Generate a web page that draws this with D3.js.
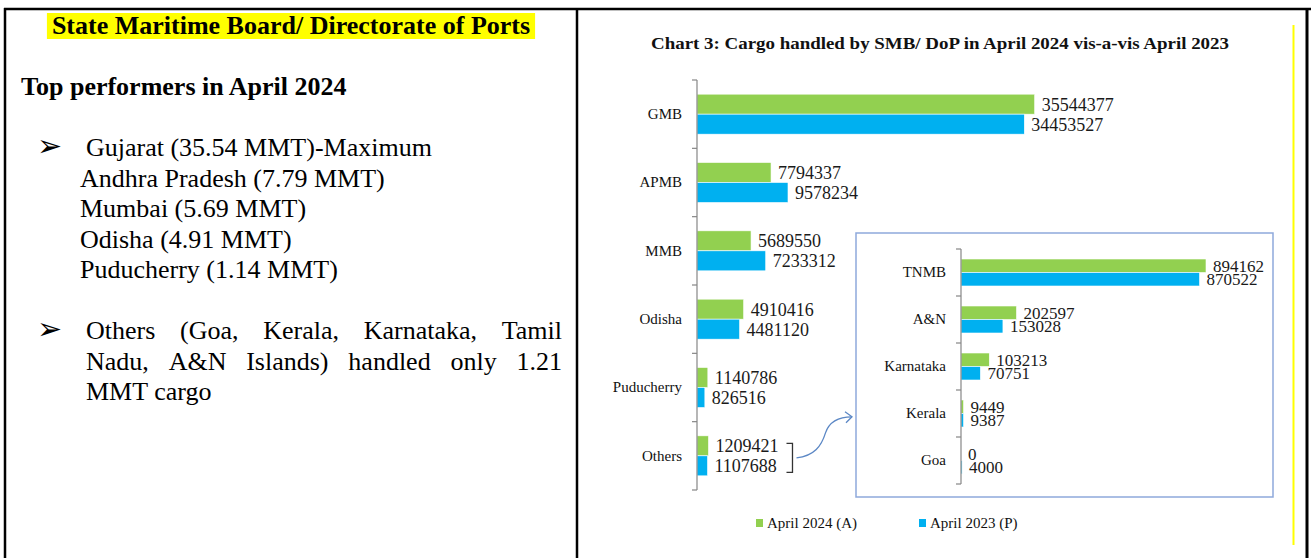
<!DOCTYPE html>
<html>
<head>
<meta charset="utf-8">
<script src="https://cdn.jsdelivr.net/npm/d3@7"></script>
<style>
  body { margin: 0; background: #fff; }
  svg { display: block; }
  text { font-family: "Liberation Serif", "Times New Roman", serif; }
</style>
</head>
<body>
<svg width="1311" height="558"></svg>
<script>
// ---- data ----
var mainCategories = ["GMB", "APMB", "MMB", "Odisha", "Puducherry", "Others"];
var april2024 = [35544377, 7794337, 5689550, 4910416, 1140786, 1209421];
var april2023 = [34453527, 9578234, 7233312, 4481120, 826516, 1107688];

var insetCategories = ["TNMB", "A&N", "Karnataka", "Kerala", "Goa"];
var inset2024 = [894162, 202597, 103213, 9449, 0];
var inset2023 = [870522, 153028, 70751, 9387, 4000];

var seriesNames = ["April 2024 (A)", "April 2023 (P)"];
var seriesColors = ["#92D050", "#00B0F0"];

var chartTitle = "Chart 3: Cargo handled by SMB/ DoP in April 2024 vis-a-vis April 2023";
var panelHeading = "State Maritime Board/ Directorate of Ports";
var panelSub = "Top performers in April 2024";
var performers = ["Gujarat (35.54 MMT)-Maximum", "Andhra Pradesh (7.79 MMT)", "Mumbai (5.69 MMT)",
                  "Odisha (4.91 MMT)", "Puducherry (1.14 MMT)"];
var othersLines = ["Others (Goa, Kerala, Karnataka, Tamil", "Nadu, A&N Islands) handled only 1.21", "MMT cargo"];

var svg = d3.select("svg");

// ---- table borders ----
var border = svg.append("g").attr("stroke", "#000");
border.append("line").attr("x1", 4).attr("x2", 1311).attr("y1", 9).attr("y2", 9).attr("stroke-width", 2.5);
border.append("line").attr("x1", 5).attr("x2", 5).attr("y1", 8).attr("y2", 558).attr("stroke-width", 2.5);
border.append("line").attr("x1", 577).attr("x2", 577).attr("y1", 8).attr("y2", 558).attr("stroke-width", 2.5);
border.append("line").attr("x1", 1307).attr("x2", 1307).attr("y1", 8).attr("y2", 558).attr("stroke-width", 3);

// yellow frame line of the chart picture
svg.append("line").attr("x1", 1293.5).attr("x2", 1293.5).attr("y1", 25).attr("y2", 545)
  .attr("stroke", "#FFFF00").attr("stroke-width", 2);

// ---- left panel ----
var left = svg.append("g");

var head = left.append("text")
  .attr("x", 291).attr("y", 34)
  .attr("text-anchor", "middle")
  .attr("font-size", 26).attr("font-weight", "bold")
  .text(panelHeading);
var hw = head.node().getComputedTextLength();
left.insert("rect", "text")
  .attr("x", 291 - hw / 2 - 5).attr("y", 13)
  .attr("width", hw + 10).attr("height", 26)
  .attr("fill", "#FFFF00");

left.append("text")
  .attr("x", 21).attr("y", 95)
  .attr("font-size", 26).attr("font-weight", "bold")
  .text(panelSub);

var bulletYs = [156, 339];
left.selectAll("text.bullet").data(bulletYs).join("text")
  .attr("class", "bullet")
  .attr("x", 37).attr("y", function(d) { return d; })
  .attr("font-size", 30)
  .style("font-family", "'DejaVu Sans', sans-serif")
  .text("\u27A2");

var perfYs = [156, 187, 217, 248, 278];
left.selectAll("text.perf").data(performers).join("text")
  .attr("class", "perf")
  .attr("x", function(d, i) { return i === 0 ? 86 : 80; })
  .attr("y", function(d, i) { return perfYs[i]; })
  .attr("font-size", 26)
  .text(function(d) { return d; });

// justified paragraph
function justify(words, x0, x1, yb) {
  var g = left.append("g");
  var t = g.selectAll("text").data(words).join("text")
    .attr("y", yb).attr("font-size", 26)
    .text(function(d) { return d; });
  var widths = t.nodes().map(function(n) { return n.getComputedTextLength(); });
  var gap = (x1 - x0 - d3.sum(widths)) / (words.length - 1);
  var cx = x0;
  t.attr("x", function(d, i) { var p = cx; cx += widths[i] + gap; return p; });
}
var othersYs = [339, 370, 400];
justify(othersLines[0].split(" "), 86, 562, othersYs[0]);
justify(othersLines[1].split(" "), 86, 562, othersYs[1]);
left.append("text").attr("x", 86).attr("y", othersYs[2]).attr("font-size", 26).text(othersLines[2]);

// ---- chart title ----
svg.append("text")
  .attr("x", 940).attr("y", 49)
  .attr("text-anchor", "middle")
  .attr("font-size", 17.5).attr("font-weight", "bold")
  .attr("textLength", 578).attr("lengthAdjust", "spacingAndGlyphs")
  .attr("fill", "#111")
  .text(chartTitle);

// ---- bar chart helper ----
function barChart(g, cats, s1, s2, x, y, yS, labelPad, fs) {
  var rows = cats.map(function(c, i) { return {cat: c, vals: [s1[i], s2[i]]}; });

  var row = g.selectAll("g.row").data(rows).join("g")
    .attr("class", "row")
    .attr("transform", function(d) { return "translate(0," + (y(d.cat) + y.bandwidth() / 2) + ")"; });

  row.selectAll("rect").data(function(d) { return d.vals; }).join("rect")
    .attr("x", x(0))
    .attr("y", function(d, i) { return yS(seriesNames[i]); })
    .attr("width", function(d) { return x(d) - x(0); })
    .attr("height", yS.bandwidth())
    .attr("fill", function(d, i) { return seriesColors[i]; })
    .attr("stroke", "#fff").attr("stroke-width", 0.6);

  row.selectAll("text.val").data(function(d) { return d.vals; }).join("text")
    .attr("class", "val")
    .attr("x", function(d) { return x(d) + 7; })
    .attr("y", function(d, i) { return yS(seriesNames[i]) + yS.bandwidth() / 2; })
    .attr("dy", "0.36em")
    .attr("font-size", fs)
    .attr("fill", "#1a1a1a")
    .text(function(d) { return d; });

  // category axis
  var ax = g.append("g")
    .attr("transform", "translate(" + x(0) + ",0)")
    .call(d3.axisLeft(y).tickSize(0).tickPadding(labelPad));
  ax.select(".domain").remove();
  ax.selectAll("text").attr("font-size", 15).attr("fill", "#111")
    .style("font-family", "'Liberation Serif', serif");

  var r = y.range();
  g.append("line")
    .attr("x1", x(0)).attr("x2", x(0)).attr("y1", r[0]).attr("y2", r[1])
    .attr("stroke", "#868686").attr("stroke-width", 1.2);
  var bounds = cats.map(function(c) { return y(c); }).concat([r[1]]);
  g.selectAll("line.tick").data(bounds).join("line")
    .attr("class", "tick")
    .attr("x1", x(0) - 5).attr("x2", x(0))
    .attr("y1", function(d) { return d; }).attr("y2", function(d) { return d; })
    .attr("stroke", "#868686").attr("stroke-width", 1.2);
  return row;
}

// ---- main chart ----
var x = d3.scaleLinear().domain([0, 40000000]).range([697, 1077]);
var y = d3.scaleBand().domain(mainCategories).range([80, 490]);
var yS = d3.scaleBand().domain(seriesNames).range([-20, 20]);
var mainRows = barChart(svg.append("g"), mainCategories, april2024, april2023, x, y, yS, 15, 18);

// ---- inset box ----
svg.append("rect")
  .attr("x", 856).attr("y", 233).attr("width", 417).attr("height", 264)
  .attr("fill", "#fff").attr("stroke", "#8EA9DB").attr("stroke-width", 1.5);

var xi = d3.scaleLinear().domain([0, 1000000]).range([961, 1235]);
var yi = d3.scaleBand().domain(insetCategories).range([249, 484]);
var yiS = d3.scaleBand().domain(seriesNames).range([-13.5, 13.5]);
barChart(svg.append("g"), insetCategories, inset2024, inset2023, xi, yi, yiS, 15, 17);

// ---- bracket + arrow for "Others" ----
var oc = y("Others") + y.bandwidth() / 2 + 2;
var labEnd = d3.max(mainRows.filter(function(d) { return d.cat === "Others"; })
  .selectAll("text.val").nodes(), function(n) { return n.getBBox().x + n.getBBox().width; });
var bx = labEnd + 14;
svg.append("path")
  .attr("d", "M" + (bx - 6) + "," + (oc - 14.5) + "H" + bx + "V" + (oc + 14.5) + "H" + (bx - 6))
  .attr("fill", "none").attr("stroke", "#333").attr("stroke-width", 1.3);
svg.append("path")
  .attr("d", "M" + (bx + 4) + "," + oc + " C" + (bx + 22) + "," + (oc - 2) + " " + (bx + 29) + "," + (oc - 12) +
        " " + (bx + 33) + "," + (oc - 25) + " C" + (bx + 37) + "," + (oc - 37) + " " + (bx + 47) + "," + (oc - 41) + " 852," + (oc - 41))
  .attr("fill", "none").attr("stroke", "#5B87C5").attr("stroke-width", 1.3);
svg.append("path")
  .attr("d", "M845," + (oc - 46) + " L852," + (oc - 41) + " L846," + (oc - 35))
  .attr("fill", "none").attr("stroke", "#5B87C5").attr("stroke-width", 1.3);

// ---- legend ----
var legendX = [756, 919];
var leg = svg.selectAll("g.legend").data(seriesNames).join("g")
  .attr("class", "legend")
  .attr("transform", function(d, i) { return "translate(" + legendX[i] + ",519)"; });
leg.append("rect").attr("width", 7).attr("height", 8)
  .attr("fill", function(d, i) { return seriesColors[i]; });
leg.append("text").attr("x", 11).attr("y", 9)
  .attr("font-size", 15).attr("fill", "#111")
  .text(function(d) { return d; });
</script>
</body>
</html>
